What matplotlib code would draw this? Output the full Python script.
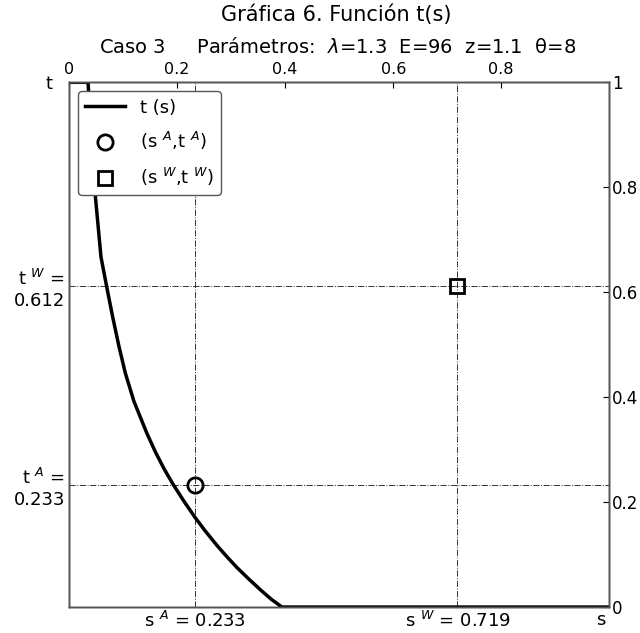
import numpy as np
import matplotlib.pyplot as plt
from matplotlib.transforms import ScaledTranslation

s_curva = [0.0, 0.035, 0.048, 0.059, 0.070, 0.081, 0.092, 0.104, 0.120, 0.144, 0.160, 0.176,
           0.193, 0.213, 0.233, 0.252, 0.274, 0.292, 0.311, 0.332, 0.354, 0.374, 0.394, 1.0]
t_curva = [1.0, 1.0, 0.789, 0.667, 0.608, 0.551, 0.498, 0.446, 0.392, 0.331, 0.295, 0.263,
           0.233, 0.201, 0.171, 0.145, 0.117, 0.096, 0.075, 0.054, 0.033, 0.015, 0.0, 0.0]

sA, tA = 0.233, 0.233
sW, tW = 0.719, 0.612

titulo = "Gráfica 6. Función t(s)"
subtitulo = "Caso 3     Parámetros:  $\\lambda$=1.3  E=96  z=1.1  θ=8"


def main():
    fig = plt.figure(figsize=(6.4, 6.33), dpi=100)
    ax = fig.add_axes([0.108, 0.041, 0.844, 0.829])

    gris = '#333333'
    ax.axvline(sA, color=gris, ls='-.', lw=0.7)
    ax.axvline(sW, color=gris, ls='-.', lw=0.7)
    ax.axhline(tA, color=gris, ls='-.', lw=0.7)
    ax.axhline(tW, color=gris, ls='-.', lw=0.7)

    ax.plot(s_curva, t_curva, 'k-', lw=2.5, label='t (s)', zorder=3)
    ax.plot([sA], [tA], 'o', ms=11, mfc='none', mec='k', mew=2, label='(s $^{A}$,t $^{A}$)')
    ax.plot([sW], [tW], 's', ms=10, mfc='none', mec='k', mew=2, label='(s $^{W}$,t $^{W}$)')

    ax.set_xlim(0, 1)
    ax.set_ylim(0, 1)
    ax.set_xticks([sA, sW, 1])
    ax.set_xticklabels(['s $^{A}$ = %.3f' % sA, 's $^{W}$ = %.3f' % sW, 's'], fontsize=13)
    ax.set_yticks([tA, tW, 1])
    ax.set_yticklabels(['t $^{A}$ =\n%.3f' % tA, 't $^{W}$ =\n%.3f' % tW, 't  '], fontsize=13)
    ax.tick_params(direction='in', length=0, pad=3)
    # correr un poco la etiqueta "s" hacia la izquierda
    lab_s = ax.get_xticklabels()[2]
    lab_s.set_transform(lab_s.get_transform() + ScaledTranslation(-6 / 72, 0, fig.dpi_scale_trans))

    # ejes secundarios arriba y a la derecha
    axr = ax.twinx()
    axr.set_ylim(0, 1)
    axr.set_yticks([0, 0.2, 0.4, 0.6, 0.8, 1])
    axr.set_yticklabels(['0', '0.2', '0.4', '0.6', '0.8', '1'], fontsize=12)
    axr.tick_params(direction='in', length=4, pad=2)

    axt = ax.twiny()
    axt.set_xlim(0, 1)
    axt.set_xticks([0, 0.2, 0.4, 0.6, 0.8])
    axt.set_xticklabels(['0', '0.2', '0.4', '0.6', '0.8'], fontsize=11.5)
    axt.tick_params(direction='in', length=4, pad=4)

    for a in (ax, axr, axt):
        for sp in a.spines.values():
            sp.set_color('#555555')
            sp.set_linewidth(1.0)

    ax.legend(loc='upper left', fontsize=13, borderaxespad=0.5, framealpha=1,
              edgecolor='#555555', handlelength=2.2, labelspacing=0.75)

    fig.text(0.525, 0.976, titulo, ha='center', va='center', fontsize=15)
    fig.text(0.527, 0.925, subtitulo, ha='center', va='center', fontsize=14)

    plt.savefig('out.png', dpi=100)


if __name__ == '__main__':
    main()
